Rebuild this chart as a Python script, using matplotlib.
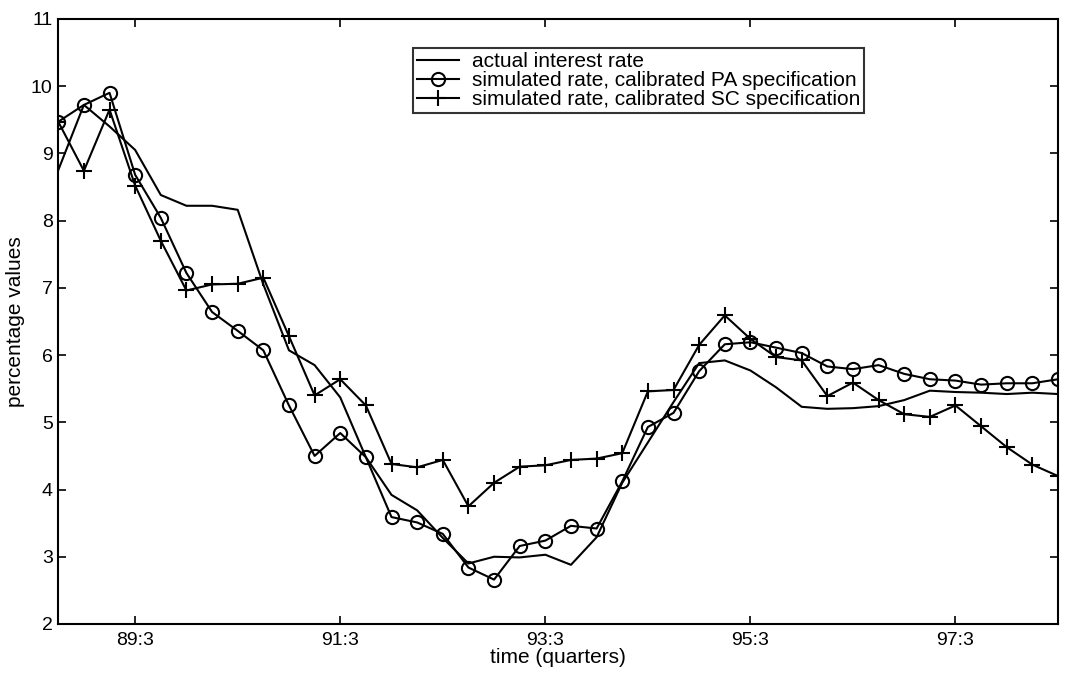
import matplotlib
matplotlib.use('Agg')
import matplotlib.pyplot as plt

plt.rcParams['font.family'] = ['Liberation Sans', 'DejaVu Sans']

# quarters from 88:4 to 98:3
quarters = list(range(40))
tick_pos = [3, 11, 19, 27, 35]
tick_labels = ['89:3', '91:3', '93:3', '95:3', '97:3']

actual = [8.75, 9.72, 9.40, 9.05, 8.38, 8.22, 8.22, 8.16, 7.05, 6.07,
          5.85, 5.37, 4.48, 3.92, 3.69, 3.28, 2.90, 3.00, 2.99, 3.03,
          2.88, 3.29, 4.10, 4.70, 5.30, 5.88, 5.92, 5.77, 5.52, 5.23,
          5.20, 5.21, 5.24, 5.33, 5.47, 5.45, 5.44, 5.42, 5.44, 5.42]

sim_pa = [9.47, 9.72, 9.90, 8.68, 8.04, 7.22, 6.64, 6.36, 6.07, 5.25,
          4.50, 4.84, 4.48, 3.59, 3.51, 3.34, 2.84, 2.66, 3.16, 3.24,
          3.46, 3.42, 4.12, 4.93, 5.14, 5.76, 6.16, 6.19, 6.11, 6.03,
          5.83, 5.79, 5.85, 5.72, 5.64, 5.62, 5.56, 5.58, 5.58, 5.64]

sim_sc = [9.47, 8.74, 9.65, 8.52, 7.70, 6.96, 7.05, 7.06, 7.15, 6.28,
          5.40, 5.64, 5.25, 4.38, 4.33, 4.44, 3.75, 4.10, 4.34, 4.36,
          4.44, 4.46, 4.54, 5.46, 5.48, 6.15, 6.59, 6.24, 5.97, 5.92,
          5.39, 5.59, 5.33, 5.12, 5.08, 5.25, 4.94, 4.63, 4.37, 4.20]

fig = plt.figure(figsize=(10.67, 6.83), dpi=100)
ax = fig.add_axes([0.0546, 0.0864, 0.937, 0.886])

ax.plot(quarters, actual, color='black', lw=1.5, label='actual interest rate')
ax.plot(quarters, sim_pa, color='black', lw=1.5, marker='o', markersize=9.5,
        markerfacecolor='none', markeredgewidth=1.5,
        label='simulated rate, calibrated PA specification')
ax.plot(quarters, sim_sc, color='black', lw=1.5, marker='+', markersize=12,
        markeredgewidth=1.5, label='simulated rate, calibrated SC specification')

ax.set_xlim(0, 39)
ax.set_ylim(2, 11)
ax.set_xticks(tick_pos)
ax.set_xticklabels(tick_labels)
ax.set_yticks(range(2, 12))
ax.tick_params(direction='in', top=True, right=True, length=6, width=1.2,
               labelsize=14, colors='black')
ax.tick_params(axis='x', pad=6)
ax.tick_params(axis='y', pad=4)
for s in ax.spines.values():
    s.set_linewidth(1.5)

ax.set_xlabel('time (quarters)', fontsize=15, labelpad=-1)
ax.set_ylabel('percentage values', fontsize=15, labelpad=4)

leg = ax.legend(loc='upper left', bbox_to_anchor=(0.355, 0.952), fontsize=15,
                frameon=True, fancybox=False, edgecolor='black',
                handlelength=2.0, borderpad=0.2, labelspacing=0.0,
                handletextpad=0.6, borderaxespad=0)
leg.get_frame().set_linewidth(1.5)

fig.savefig('out.png', dpi=100)
